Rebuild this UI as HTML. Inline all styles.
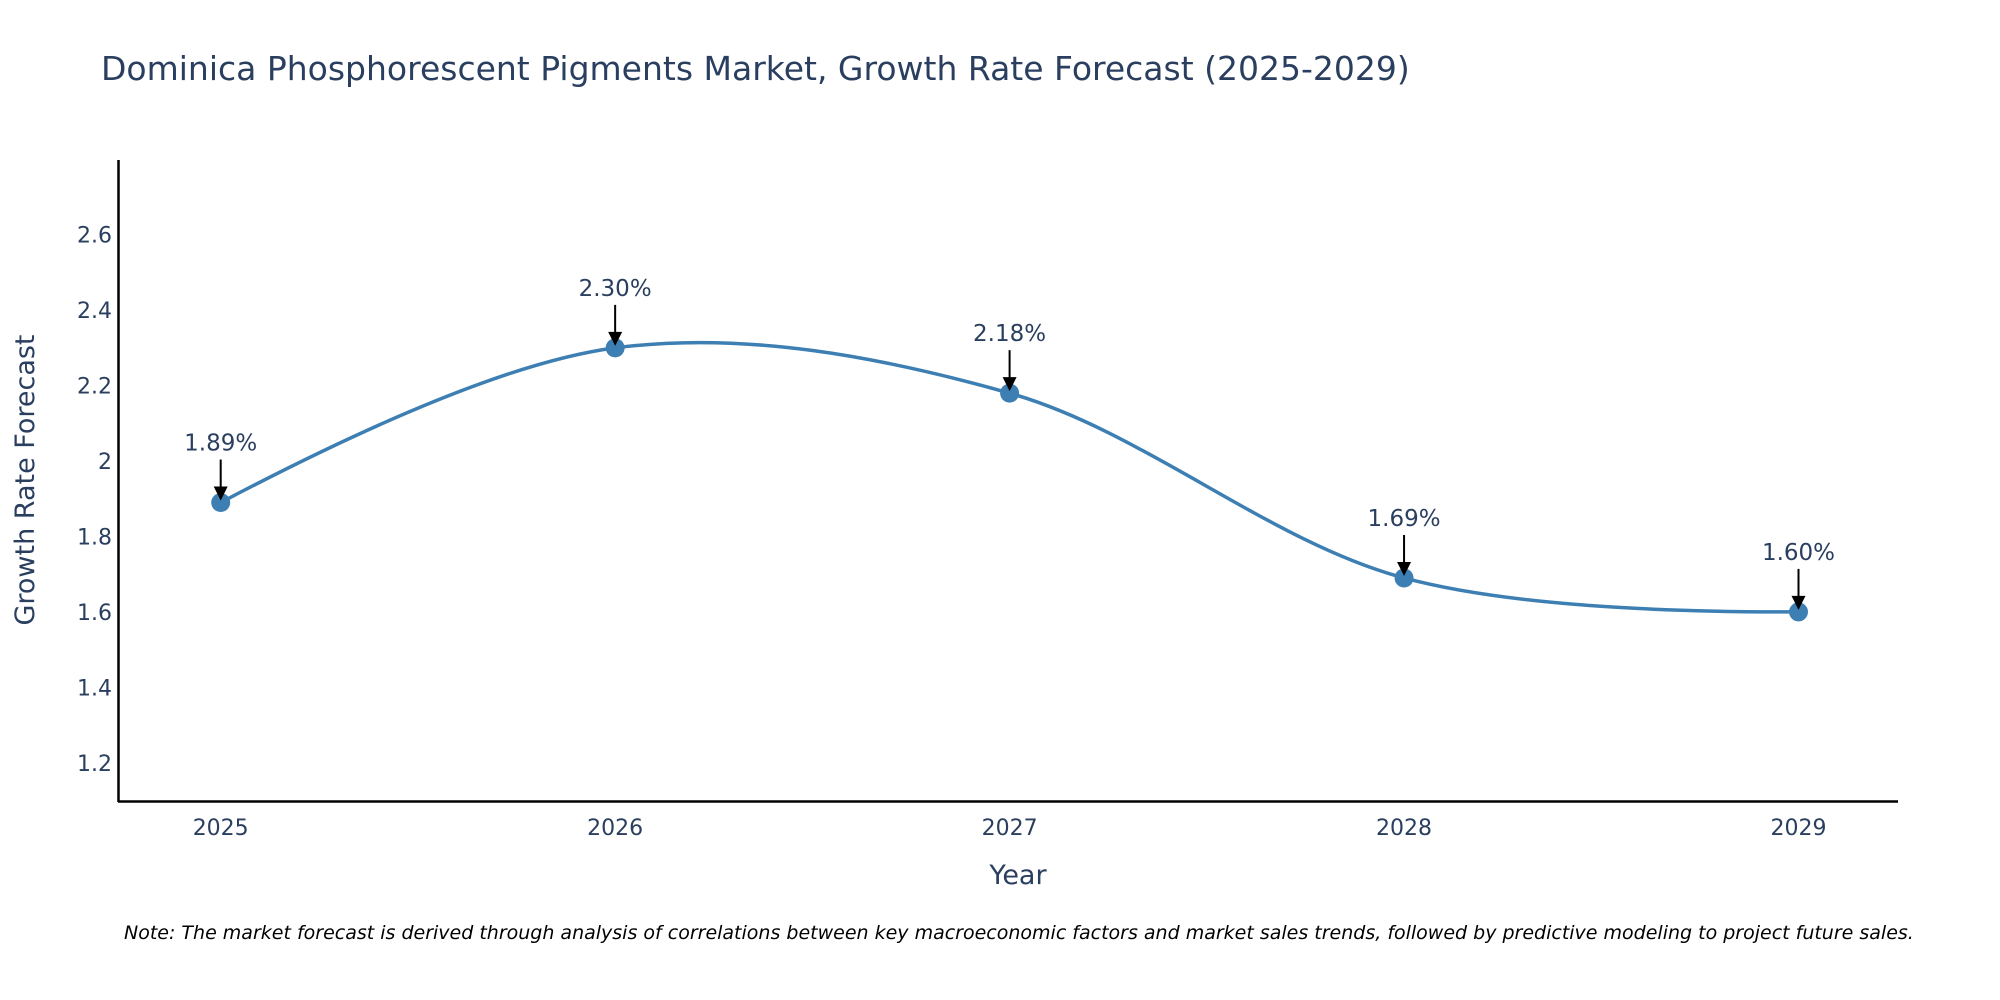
<!DOCTYPE html>
<html><head><meta charset="utf-8"><style>
body{margin:0;background:#fff}
svg{display:block;font-family:"DejaVu Sans","Liberation Sans",sans-serif}
</style></head><body>
<svg width="2000" height="1000" viewBox="0 0 2000 1000">
<text x="101" y="80" font-size="33" fill="#2a3f5f">Dominica Phosphorescent Pigments Market, Growth Rate Forecast (2025-2029)</text>
<g id="yticks"></g>
<g id="xticks"></g>
<line x1="118.5" y1="160" x2="118.5" y2="802" stroke="#000" stroke-width="2.5"/>
<line x1="118" y1="801.5" x2="1898" y2="801.5" stroke="#000" stroke-width="2.5"/>
<path id="line" fill="none" stroke="#3d7fb3" stroke-width="3.5"/>
<g id="pts"></g>
<g id="ann"></g>
<text x="1018" y="884" font-size="27" fill="#2a3f5f" text-anchor="middle">Year</text>
<text transform="translate(34,480) rotate(-90)" font-size="27" fill="#2a3f5f" text-anchor="middle">Growth Rate Forecast</text>
<text x="124" y="939" font-size="19" font-style="italic" fill="#000">Note: The market forecast is derived through analysis of correlations between key macroeconomic factors and market sales trends, followed by predictive modeling to project future sales.</text>
</svg>
<script>
const years=[2025,2026,2027,2028,2029];
const values=[1.89,2.30,2.18,1.69,1.60];
const yTickVals=[1.2,1.4,1.6,1.8,2,2.2,2.4,2.6];
const yTickLabels=["1.2","1.4","1.6","1.8","2","2.2","2.4","2.6"];
const NS="http://www.w3.org/2000/svg";
function xs(v){return 220.7+(v-2025)*394.45;}
function ys(v){return 762.8-(v-1.2)*377.2;}
function mk(tag,attrs,parent){const e=document.createElementNS(NS,tag);for(const k in attrs)e.setAttribute(k,attrs[k]);parent.appendChild(e);return e;}
const yt=document.getElementById('yticks');
yTickVals.forEach((v,i)=>{const t=mk('text',{x:112,y:ys(v)+8,'font-size':22,fill:'#2a3f5f','text-anchor':'end'},yt);


t.textContent=yTickLabels[i];});
const xt=document.getElementById('xticks');
years.forEach(y=>{const t=mk('text',{x:xs(y),y:835,'font-size':22,fill:'#2a3f5f','text-anchor':'middle'},xt);


t.textContent=String(y);});
const P=years.map((y,i)=>[xs(y),ys(values[i])]);
function tang(a,b,c,s){const d1x=a[0]-b[0],d1y=a[1]-b[1],d2x=c[0]-b[0],d2y=c[1]-b[1];
const d1a=Math.pow(d1x*d1x+d1y*d1y,0.25),d2a=Math.pow(d2x*d2x+d2y*d2y,0.25);
const nx=(d2a*d2a*d1x-d1a*d1a*d2x)*s,ny=(d2a*d2a*d1y-d1a*d1a*d2y)*s;
const n1=3*d2a*(d1a+d2a),n2=3*d1a*(d1a+d2a);
return [[b[0]+nx/n1,b[1]+ny/n1],[b[0]-nx/n2,b[1]-ny/n2]];}
const T=[];for(let i=1;i<P.length-1;i++)T.push(tang(P[i-1],P[i],P[i+1],1));
const f=p=>p[0].toFixed(2)+','+p[1].toFixed(2);
let d='M'+f(P[0])+'Q'+f(T[0][0])+' '+f(P[1]);
for(let i=2;i<P.length-1;i++)d+='C'+f(T[i-2][1])+' '+f(T[i-1][0])+' '+f(P[i]);
d+='Q'+f(T[P.length-3][1])+' '+f(P[P.length-1]);
document.getElementById('line').setAttribute('d',d);
const pg=document.getElementById('pts'),ag=document.getElementById('ann');
P.forEach((p,i)=>{const c=mk('circle',{cx:p[0],cy:p[1],r:9.5,fill:'#3d7fb3'},pg);


const l=mk('line',{x1:p[0],y1:p[1]-43,x2:p[0],y2:p[1]-14,stroke:'#000','stroke-width':2},ag);


const h=mk('polygon',{points:`${p[0]-7},${p[1]-16} ${p[0]+7},${p[1]-16} ${p[0]},${p[1]-2}`,fill:'#000'},ag);


const t=mk('text',{x:p[0],y:p[1]-52,'font-size':23,fill:'#2a3f5f','text-anchor':'middle'},ag);


t.textContent=values[i].toFixed(2)+'%';});
</script>
</body></html>
